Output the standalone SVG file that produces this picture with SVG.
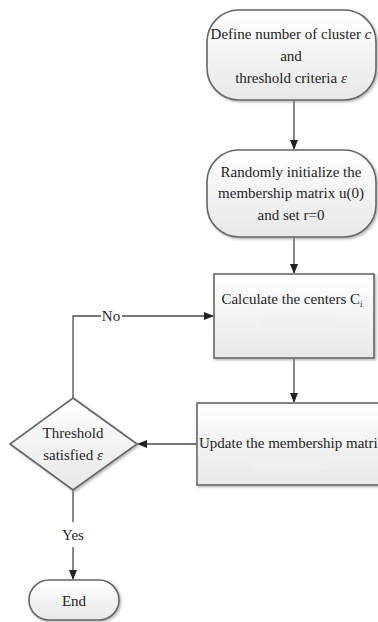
<svg xmlns="http://www.w3.org/2000/svg" width="378" height="622" viewBox="0 0 378 622">
<style>
.box{fill:url(#g);stroke:#666;stroke-width:1.6;filter:url(#sh)}
.t{font-family:"Liberation Serif","Times New Roman",serif;font-size:15px;fill:#1e1e1e;text-anchor:middle}
.ln{fill:none;stroke:#4a4a4a;stroke-width:1.3}
.ar{marker-end:url(#ah)}
.faint{fill:#f0f0f0;stroke:none}
</style>
<defs>
<linearGradient id="g" x1="0" y1="0" x2="0" y2="1">
<stop offset="0" stop-color="#ffffff"/>
<stop offset="1" stop-color="#e8e8e8"/>
</linearGradient>
<filter id="sh" x="-10%" y="-10%" width="125%" height="130%">
<feDropShadow dx="1.5" dy="1.5" stdDeviation="1" flood-color="#888" flood-opacity="0.6"/>
</filter>
<marker id="ah" markerWidth="10" markerHeight="8" refX="9" refY="4" orient="auto" markerUnits="userSpaceOnUse">
<path d="M0,0 L10,4 L0,8 Z" fill="#222"/>
</marker>
</defs>
<g id="connectors">
<line class="ln ar" x1="294" y1="100" x2="294" y2="149"/>
<line class="ln ar" x1="294" y1="237" x2="294" y2="273"/>
<line class="ln ar" x1="294" y1="359" x2="294" y2="402"/>
<line class="ln ar" x1="197" y1="444" x2="138" y2="444"/>
<polyline class="ln" points="73,398 73,316 101,316"/>
<line class="ln ar" x1="122" y1="316" x2="213" y2="316"/>
<text class="t" x="111" y="321">No</text>
<line class="ln" x1="73" y1="490" x2="73" y2="522"/>
<line class="ln ar" x1="73" y1="547" x2="73" y2="579"/>
<text class="t" x="73" y="540">Yes</text>
</g>
<g id="n1">
<rect class="box" x="207" y="10" width="169" height="90" rx="32" ry="32"/>
<text class="t" x="291" y="39">Define number of cluster <tspan font-style="italic">c</tspan></text>
<text class="t" x="291" y="61">and</text>
<text class="t" x="291" y="83">threshold criteria <tspan font-style="italic">ε</tspan></text>
</g>
<g id="n2">
<rect class="box" x="207" y="150" width="169" height="87" rx="32" ry="32"/>
<text class="t" x="291" y="177">Randomly initialize the</text>
<text class="t" x="291" y="198">membership matrix u(0)</text>
<text class="t" x="291" y="220">and set r=0</text>
</g>
<g id="n3">
<rect class="box" x="214" y="274" width="160" height="84"/>
<text class="t" x="292" y="304">Calculate the centers C<tspan font-size="9" dy="3">i</tspan></text>
<rect class="faint" x="262" y="317" width="75" height="10"/>
</g>
<g id="n4">
<rect class="box" x="197" y="403" width="200" height="82"/>
<text class="t" x="199" y="448" style="text-anchor:start">Update the membership matri</text>
<rect class="faint" x="253" y="455" width="74" height="15"/>
</g>
<g id="n5">
<polygon class="box" points="73,398 137,444 73,490 10,444"/>
<text class="t" x="73" y="438">Threshold</text>
<text class="t" x="73" y="460">satisfied <tspan font-style="italic">ε</tspan></text>
</g>
<g id="n6">
<rect class="box" x="29" y="580" width="90" height="40" rx="20" ry="20"/>
<text class="t" x="74" y="606">End</text>
</g>
</svg>
